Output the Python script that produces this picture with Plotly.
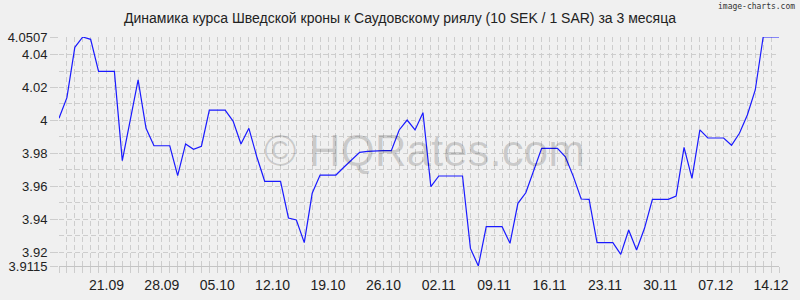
import pandas as pd
import plotly.graph_objects as go

# Data: daily rate, 10 SEK / 1 SAR
start_date = "2024-09-15"
values = [
    4.0013, 4.0138, 4.0444, 4.0507, 4.0493, 4.0298, 4.0298, 4.0298, 3.9755, 4.0000,
    4.0246, 3.9952, 3.9846, 3.9846, 3.9846, 3.9664, 3.9857, 3.9824, 3.9843, 4.0063,
    4.0063, 4.0063, 3.9996, 3.9857, 3.9952, 3.9779, 3.9630, 3.9630, 3.9630, 3.9407,
    3.9395, 3.9257, 3.9557, 3.9668, 3.9668, 3.9668, 3.9715, 3.9762, 3.9806, 3.9812,
    3.9816, 3.9816, 3.9816, 3.9942, 4.0002, 3.9942, 4.0047, 3.9597, 3.9662, 3.9662,
    3.9662, 3.9662, 3.9222, 3.9115, 3.9354, 3.9354, 3.9354, 3.9253, 3.9496, 3.9560,
    3.9690, 3.9830, 3.9830, 3.9830, 3.9779, 3.9660, 3.9522, 3.9520, 3.9257, 3.9257,
    3.9257, 3.9186, 3.9334, 3.9212, 3.9344, 3.9520, 3.9520, 3.9520, 3.9540, 3.9836,
    3.9648, 3.9942, 3.9893, 3.9893, 3.9893, 3.9849, 3.9922, 4.0033, 4.0185, 4.0507,
    4.0507, 4.0507,
]
dates = pd.date_range(start_date, periods=len(values), freq="D")

x_tick_dates = ["2024-09-21", "2024-09-28", "2024-10-05", "2024-10-12", "2024-10-19",
                "2024-10-26", "2024-11-02", "2024-11-09", "2024-11-16", "2024-11-23",
                "2024-11-30", "2024-12-07", "2024-12-14"]
x_tick_labels = ["21.09", "28.09", "05.10", "12.10", "19.10", "26.10", "02.11",
                 "09.11", "16.11", "23.11", "30.11", "07.12", "14.12"]

y_min, y_max = 3.9115, 4.0507
y_tick_vals = [3.9115, 3.92, 3.94, 3.96, 3.98, 4.00, 4.02, 4.04, 4.0507]
y_tick_labels = ["3.9115", "3.92", "3.94", "3.96", "3.98", "4", "4.02", "4.04", "4.0507"]
y_minor_vals = [3.93, 3.95, 3.97, 3.99, 4.01, 4.03]

title_text = "Динамика курса Шведской кроны к Саудовскому риялу (10 SEK / 1 SAR) за 3 месяца"

BG = "#f0f0f0"
GRID = "#cdcdcd"
DASH = "5px,3px"
FONT = "Liberation Sans, Arial, sans-serif"

fig = go.Figure()
fig.add_trace(go.Scatter(
    x=dates, y=values, mode="lines",
    line=dict(color="#1a1aff", width=1.2),
    hoverinfo="skip", showlegend=False,
))

fig.update_layout(
    width=800, height=300,
    margin=dict(l=59, r=21, t=37, b=34, autoexpand=False),
    paper_bgcolor=BG, plot_bgcolor=BG,
    font=dict(family=FONT, size=14, color="#222222"),
    title=dict(text=title_text, x=0.5, xanchor="center", xref="container",
               y=1 - 18 / 300, yref="container", yanchor="middle",
               font=dict(family=FONT, size=14, color="#222222")),
    xaxis=dict(
        range=[dates[0], dates[-1]], automargin=False,
        tickmode="array", tickvals=x_tick_dates, ticktext=x_tick_labels,
        showgrid=True, gridcolor=GRID, griddash=DASH, gridwidth=1,
        ticks="outside", ticklen=6, tickcolor=GRID,
        showline=True, linecolor="#c4c4c4", linewidth=1,
        zeroline=False,
        tickfont=dict(family=FONT, size=14, color="#222222"),
        minor=dict(dtick=86400000, tick0=start_date, showgrid=True, gridcolor=GRID,
                   griddash=DASH, ticks="outside", ticklen=6, tickcolor=GRID),
    ),
    yaxis=dict(
        range=[y_min, y_max], automargin=False,
        tickmode="array", tickvals=y_tick_vals, ticktext=y_tick_labels,
        showgrid=True, gridcolor=GRID, griddash=DASH, gridwidth=1,
        ticks="outside", ticklen=8, tickcolor=GRID,
        showline=False, zeroline=False,
        tickfont=dict(family=FONT, size=13, color="#222222"),
        minor=dict(tickvals=y_minor_vals, showgrid=True, gridcolor=GRID, griddash=DASH),
    ),
    annotations=[
        dict(text="© HQRates.com", x=0.508, y=0.505, xref="paper", yref="paper",
             xanchor="center", yanchor="middle", showarrow=False,
             font=dict(family=FONT, size=44, color="rgba(0,0,0,0.16)")),
        dict(text="image-charts.com", x=(797 - 59) / 720, y=(266 - 7) / 229,
             xref="paper", yref="paper", xanchor="right", yanchor="middle",
             showarrow=False,
             font=dict(family="DejaVu Sans Mono", size=8, color="#333333")),
    ],
)

fig.write_html("out.html")
